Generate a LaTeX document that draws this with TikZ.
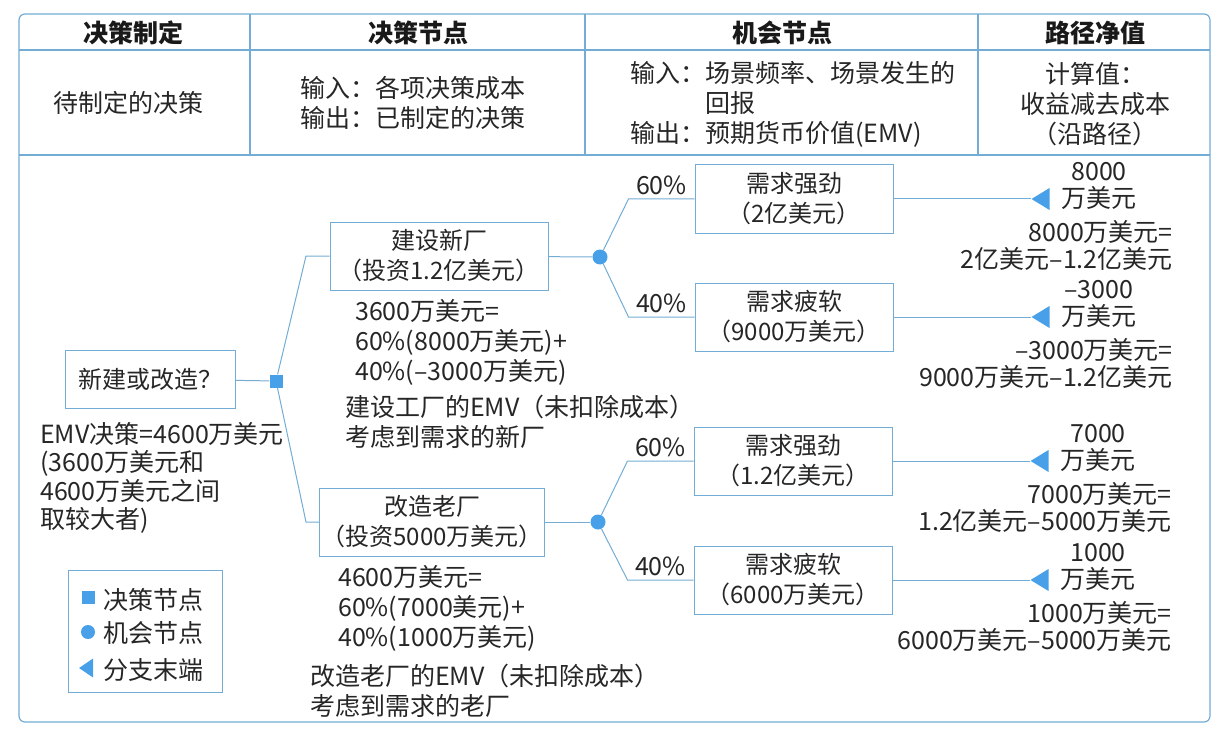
\documentclass[tikz,border=0pt]{standalone}
\usepackage{fontspec}
\setmainfont{Noto Sans CJK SC}
\usetikzlibrary{shapes.geometric,calc}

\definecolor{treeline}{RGB}{115,172,212}
\definecolor{marker}{RGB}{72,160,232}

\begin{document}
\begin{tikzpicture}[x=1pt,y=-1pt,
    txt/.style={font=\fontsize{25}{30}\selectfont,inner sep=0pt,text=black!85},
    pay/.style={font=\fontsize{25}{27}\selectfont,inner sep=0pt,text=black!85},
    head/.style={font=\fontsize{25}{28}\selectfont\bfseries,inner sep=0pt,text=black!90},
    box/.style={draw=treeline,line width=1pt,font=\fontsize{24}{30}\selectfont,align=center,minimum width=198pt,minimum height=68pt,inner xsep=2pt,text=black!85},
    dnode/.style={rectangle,fill=marker,minimum size=13pt,inner sep=0pt},
    cnode/.style={circle,fill=marker,minimum size=15pt,inner sep=0pt},
    endnode/.style={isosceles triangle,shape border rotate=180,isosceles triangle stretches,fill=marker,minimum height=18pt,minimum width=22pt,inner sep=0pt},
    branch/.style={draw=treeline,line width=1pt}]
    \useasboundingbox (0,0) rectangle (1223,738);
    % table frame
    \draw[treeline,line width=1.2pt,rounded corners=6pt] (19,14) rectangle (1210,722);
    \draw[treeline,line width=1.2pt] (19,50) -- (1210,50) (19,155) -- (1210,155);
    \foreach \x in {250,585,978} {
        \draw[treeline,line width=1.2pt] (\x,14) -- (\x,155);
    }
    \foreach \x/\t [count=\i] in {133/决策制定,418/决策节点,782/机会节点,1095/路径净值} {
        \node[head] (h\i) at (\x,33) {\t};
    }
    \node[txt] (r1) at (128,103) {待制定的决策};
    \node[txt,anchor=west,align=left] (r2) at (300,103) {输入：各项决策成本\\输出：已制定的决策};
    \node[txt,anchor=west,align=left] (r3) at (630,104) {输入：场景频率、场景发生的\\\phantom{输入：}回报\\输出：预期货币价值(EMV)};
    \node[txt,align=center] (r4) at (1095,104) {计算值：\\收益减去成本\\（沿路径）};
    % decision tree
    \node[box,minimum width=170pt,minimum height=58pt] (q) at (150,379) {新建或改造？};
    \node[dnode] (d) at (276,381) {};
    \node[box,minimum width=218pt] (b1) at (439,256) {建设新厂\\（投资1.2亿美元）};
    \node[box,minimum width=225pt] (b2) at (432,522) {改造老厂\\（投资5000万美元）};
    \node[cnode] (c1) at (600,257) {};
    \node[cnode] (c2) at (598,522) {};
    \node[box] (o1) at (794,199) {需求强劲\\（2亿美元）};
    \node[box] (o2) at (794,317) {需求疲软\\（9000万美元）};
    \node[box] (o3) at (793,461) {需求强劲\\（1.2亿美元）};
    \node[box] (o4) at (793,580) {需求疲软\\（6000万美元）};
    \coordinate (k1) at (306,256);
    \coordinate (k2) at (306,522);
    \draw[branch] (q) -- (d);
    \draw[branch] (d) -- (k1) -- (b1.west);
    \draw[branch] (d) -- (k2) -- (b2.west);
    \draw[branch] (b1) -- (c1);
    \draw[branch] (b2) -- (c2);
    \foreach \c/\o/\p in {c1/o1/60\%,c1/o2/40\%,c2/o3/60\%,c2/o4/40\%} {
        \draw[branch] (\c) -- ($(\o.west)+(-66,0)$) -- (\o.west) node[midway,above=4pt,txt] {\p};
    }
    % branch ends and path values
    \foreach \o/\v/\a/\b [count=\i] in {o1/8000/8000万美元=/2亿美元–1.2亿美元,
        o2/–3000/–3000万美元=/9000万美元–1.2亿美元,
        o3/7000/7000万美元=/1.2亿美元–5000万美元,
        o4/1000/1000万美元=/6000万美元–5000万美元} {
        \node[endnode,anchor=apex] (t\i) at ($(\o.center)+(237,0)$) {};
        \draw[branch] (\o) -- (t\i);
        \node[pay,align=center] (v\i) at ($(\o.center)+(305,-13)$) {\v\\万美元};
        \node[pay,align=right,anchor=east] (f\i) at ($(\o.center)+(379,46)$) {\a\\\b};
    }
    % expected values
    \node[txt,anchor=west,align=left] (e1) at (355,342) {3600万美元=\\60\%(8000万美元)+\\40\%(–3000万美元)};
    \node[txt,anchor=west,align=left] (m1) at (345,422) {建设工厂的EMV（未扣除成本）\\考虑到需求的新厂};
    \node[txt,anchor=west,align=left] (e2) at (338,608) {4600万美元=\\60\%(7000美元)+\\40\%(1000万美元)};
    \node[txt,anchor=west,align=left] (m2) at (310,691) {改造老厂的EMV（未扣除成本）\\考虑到需求的老厂};
    \node[pay,anchor=west,align=left,font=\fontsize{25}{28.5}\selectfont] (emv) at (40,478) {EMV决策=4600万美元\\(3600万美元和\\4600万美元之间\\取较大者)};
    % legend
    \node[draw=treeline,line width=1pt,minimum width=154pt,minimum height=122pt] (lg) at (145,631) {};
    \node[dnode,minimum size=13pt] (l1) at (88,597) {};
    \node[cnode,minimum size=14pt] (l2) at (88,632) {};
    \node[endnode,minimum height=14pt,minimum width=19pt] (l3) at (88,668) {};
    \node[txt,anchor=west] (lt1) at (103,600) {决策节点};
    \node[txt,anchor=west] (lt2) at (103,633) {机会节点};
    \node[txt,anchor=west] (lt3) at (103,670) {分支末端};
\end{tikzpicture}
\end{document}
